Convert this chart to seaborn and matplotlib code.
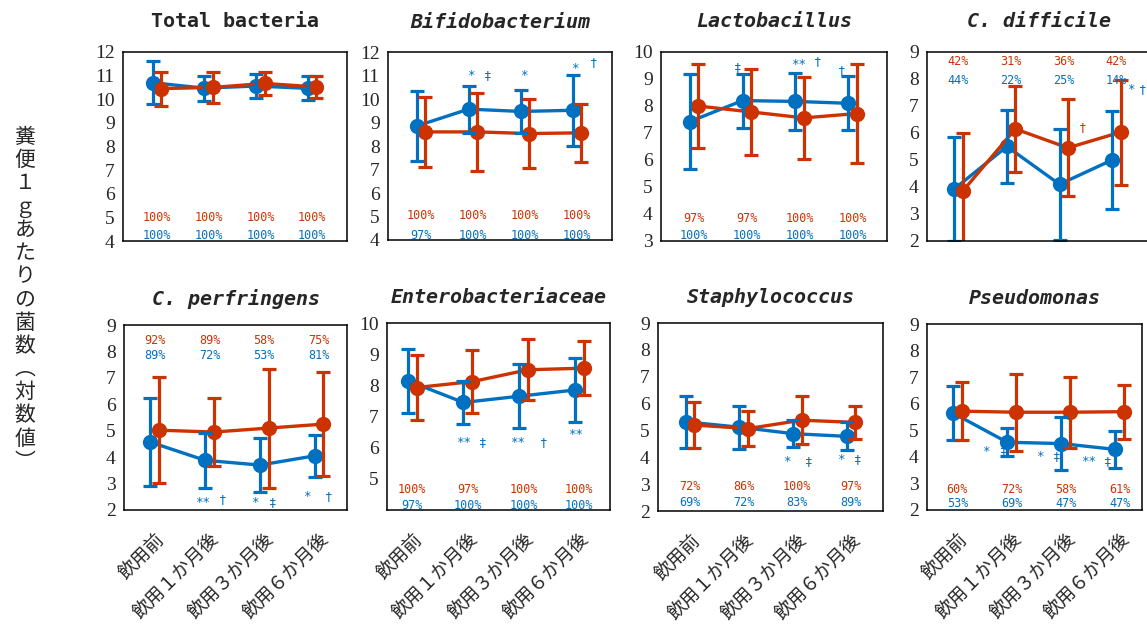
import matplotlib
matplotlib.use("Agg")
import matplotlib.pyplot as plt
import pandas as pd
import seaborn as sns

# ---------------------------------------------------------------- data
periods = ["飲用前", "飲用１か月後", "飲用３か月後", "飲用６か月後"]
group_names = ["A", "B"]          # A: blue series, B: red series

total_a = [10.70, 10.47, 10.56, 10.46]
total_a_sd = [0.90, 0.53, 0.49, 0.51]
total_b = [10.45, 10.50, 10.67, 10.52]
total_b_sd = [0.72, 0.67, 0.47, 0.45]
total_pct_a = [100, 100, 100, 100]
total_pct_b = [100, 100, 100, 100]

bifido_a = [8.85, 9.57, 9.47, 9.52]
bifido_a_sd = [1.50, 1.00, 0.93, 1.50]
bifido_b = [8.60, 8.60, 8.53, 8.56]
bifido_b_sd = [1.50, 1.65, 1.45, 1.22]
bifido_pct_a = [97, 100, 100, 100]
bifido_pct_b = [100, 100, 100, 100]

lacto_a = [7.42, 8.20, 8.17, 8.10]
lacto_a_sd = [1.75, 1.00, 1.05, 1.00]
lacto_b = [8.00, 7.78, 7.56, 7.72]
lacto_b_sd = [1.55, 1.58, 1.52, 1.82]
lacto_pct_a = [100, 100, 100, 100]
lacto_pct_b = [97, 97, 100, 100]

cdiff_a = [3.93, 5.50, 4.10, 5.00]
cdiff_a_sd = [1.93, 1.35, 2.05, 1.80]
cdiff_b = [3.85, 6.15, 5.45, 6.03]
cdiff_b_sd = [2.15, 1.60, 1.80, 1.95]
cdiff_pct_a = [44, 22, 25, 14]
cdiff_pct_b = [42, 31, 36, 42]

cperf_a = [4.57, 3.88, 3.70, 4.05]
cperf_a_sd = [1.67, 1.04, 1.02, 0.80]
cperf_b = [5.02, 4.95, 5.10, 5.25]
cperf_b_sd = [2.00, 1.30, 2.25, 1.97]
cperf_pct_a = [89, 72, 53, 81]
cperf_pct_b = [92, 89, 58, 75]

entero_a = [8.15, 7.45, 7.65, 7.85]
entero_a_sd = [1.03, 0.70, 1.03, 1.04]
entero_b = [7.93, 8.12, 8.50, 8.55]
entero_b_sd = [1.04, 1.00, 0.98, 0.87]
entero_pct_a = [97, 100, 100, 100]
entero_pct_b = [100, 97, 100, 100]

staph_a = [5.32, 5.12, 4.88, 4.78]
staph_a_sd = [0.98, 0.80, 0.49, 0.52]
staph_b = [5.20, 5.07, 5.38, 5.30]
staph_b_sd = [0.87, 0.64, 0.90, 0.61]
staph_pct_a = [69, 72, 83, 89]
staph_pct_b = [72, 86, 100, 97]

pseudo_a = [5.65, 4.55, 4.50, 4.28]
pseudo_a_sd = [1.02, 0.52, 1.00, 0.70]
pseudo_b = [5.72, 5.68, 5.68, 5.70]
pseudo_b_sd = [1.10, 1.45, 1.33, 1.02]
pseudo_pct_a = [53, 69, 47, 47]
pseudo_pct_b = [60, 72, 58, 61]

ylabel_text = "糞便１ｇあたりの菌数︵対数値︶"

# ---------------------------------------------------------------- style
BLUE = "#0070C0"
RED = "#CC3300"
W, H = 1147, 637

sns.set_style("white")
plt.rcParams["font.family"] = ["Liberation Serif", "Noto Sans CJK JP", "DejaVu Sans"]

# panel: title, italic, series, ylim, yticks, box (px), xlim, pct y (a, b), marks
panels = [
    dict(title="Total bacteria", italic=False,
         a=total_a, a_sd=total_a_sd, b=total_b, b_sd=total_b_sd,
         pa=total_pct_a, pb=total_pct_b, pct_y=(4.25, 5.0),
         ylim=(4, 12), yticks=range(4, 13), box=(123, 52, 347, 241),
         xlim=(-0.65, 3.67), marks=[]),
    dict(title="Bifidobacterium", italic=True,
         a=bifido_a, a_sd=bifido_a_sd, b=bifido_b, b_sd=bifido_b_sd,
         pa=bifido_pct_a, pb=bifido_pct_b, pct_y=(4.21, 5.06),
         ylim=(4, 12), yticks=range(4, 13), box=(388, 52, 612, 240),
         xlim=(-0.63, 3.67),
         marks=[(0.96, 10.98, "*", BLUE), (1.29, 10.98, "‡", BLUE),
                (1.98, 10.98, "*", BLUE), (2.96, 11.3, "*", BLUE),
                (3.31, 11.57, "†", BLUE)]),
    dict(title="Lactobacillus", italic=True,
         a=lacto_a, a_sd=lacto_a_sd, b=lacto_b, b_sd=lacto_b_sd,
         pa=lacto_pct_a, pb=lacto_pct_b, pct_y=(3.22, 3.85),
         ylim=(3, 10), yticks=range(3, 11), box=(661, 52, 887, 241),
         xlim=(-0.62, 3.65),
         marks=[(0.83, 9.44, "‡", BLUE), (1.98, 9.52, "**", BLUE),
                (2.34, 9.63, "†", BLUE), (2.8, 9.33, "†", BLUE)]),
    dict(title="C. difficile", italic=True,
         a=cdiff_a, a_sd=cdiff_a_sd, b=cdiff_b, b_sd=cdiff_b_sd,
         pa=cdiff_pct_a, pb=cdiff_pct_b, pct_y=(7.96, 8.63),
         ylim=(2, 9), yticks=range(2, 10), box=(927, 52, 1151, 241),
         xlim=(-0.6, 3.66),
         marks=[(2.37, 6.22, "†", RED), (3.28, 7.6, "*", BLUE),
                (3.5, 7.6, "†", BLUE)]),
    dict(title="C. perfringens", italic=True,
         a=cperf_a, a_sd=cperf_a_sd, b=cperf_b, b_sd=cperf_b_sd,
         pa=cperf_pct_a, pb=cperf_pct_b, pct_y=(7.86, 8.43),
         ylim=(2, 9), yticks=range(2, 10), box=(124, 325, 347, 510),
         xlim=(-0.56, 3.51),
         marks=[(0.87, 2.3, "**", BLUE), (1.24, 2.38, "†", BLUE),
                (1.82, 2.27, "*", BLUE), (2.15, 2.27, "‡", BLUE),
                (2.78, 2.5, "*", BLUE), (3.18, 2.5, "†", BLUE)]),
    dict(title="Enterobacteriaceae", italic=True,
         a=entero_a, a_sd=entero_a_sd, b=entero_b, b_sd=entero_b_sd,
         pa=entero_pct_a, pb=entero_pct_b, pct_y=(4.13, 4.67),
         ylim=(4, 10), yticks=range(5, 11), box=(387, 323, 610, 510),
         xlim=(-0.45, 3.55),
         marks=[(0.92, 6.15, "**", BLUE), (1.26, 6.15, "‡", BLUE),
                (1.9, 6.15, "**", BLUE), (2.37, 6.15, "†", BLUE),
                (2.93, 6.41, "**", BLUE)]),
    dict(title="Staphylococcus", italic=True,
         a=staph_a, a_sd=staph_a_sd, b=staph_b, b_sd=staph_b_sd,
         pa=staph_pct_a, pb=staph_pct_b, pct_y=(2.3, 2.9),
         ylim=(2, 9), yticks=range(2, 10), box=(658, 323, 883, 511),
         xlim=(-0.6, 3.6),
         marks=[(1.81, 3.83, "*", BLUE), (2.22, 3.83, "‡", BLUE),
                (2.81, 3.9, "*", BLUE), (3.13, 3.9, "‡", BLUE)]),
    dict(title="Pseudomonas", italic=True,
         a=pseudo_a, a_sd=pseudo_a_sd, b=pseudo_b, b_sd=pseudo_b_sd,
         pa=pseudo_pct_a, pb=pseudo_pct_b, pct_y=(2.26, 2.79),
         ylim=(2, 9), yticks=range(2, 10), box=(927, 324, 1142, 510),
         xlim=(-0.56, 3.41),
         marks=[(0.52, 4.22, "*", BLUE), (0.85, 4.22, "‡", BLUE),
                (1.53, 4.0, "*", BLUE), (1.84, 4.0, "‡", BLUE),
                (2.43, 3.81, "**", BLUE), (2.78, 3.81, "‡", BLUE)]),
]

DODGE = 0.16
MONO = "DejaVu Sans Mono"

fig = plt.figure(figsize=(W / 100, H / 100), dpi=100)

for i, p in enumerate(panels):
    x0, y0, x1, y1 = p["box"]
    ax = fig.add_axes([x0 / W, 1 - y1 / H, (x1 - x0) / W, (y1 - y0) / H])

    df = pd.DataFrame({
        "period": periods * 2,
        "group": [group_names[0]] * 4 + [group_names[1]] * 4,
        "value": list(p["a"]) + list(p["b"]),
    })
    sns.pointplot(data=df, x="period", y="value", hue="group",
                  order=periods, hue_order=group_names,
                  palette=[BLUE, RED], dodge=DODGE, errorbar=None,
                  markers="o", markersize=11, linewidth=2.4,
                  markeredgewidth=0, legend=False, ax=ax)

    # standard-deviation whiskers at the dodged positions
    for k, (m, sd, c) in enumerate([(p["a"], p["a_sd"], BLUE),
                                    (p["b"], p["b_sd"], RED)]):
        off = -DODGE / 2 + DODGE * k
        ax.errorbar([j + off for j in range(4)], m, yerr=sd, fmt="none",
                    ecolor=c, elinewidth=2.3, capsize=5, capthick=2.3)

    # detection rates
    for j in range(4):
        ax.text(j, p["pct_y"][1], f"{p['pb'][j]}%", color=RED,
                family=MONO, fontsize=8.5, ha="center", va="center")
        ax.text(j, p["pct_y"][0], f"{p['pa'][j]}%", color=BLUE,
                family=MONO, fontsize=8.5, ha="center", va="center")

    # significance marks
    for mx, my, s, c in p["marks"]:
        ax.text(mx, my, s, color=c, family=MONO, fontsize=9,
                ha="center", va="center", clip_on=False)

    ax.set_xlim(*p["xlim"])
    ax.set_ylim(*p["ylim"])
    ax.set_yticks(list(p["yticks"]))
    ax.set_xlabel("")
    ax.set_ylabel("")
    for sp in ax.spines.values():
        sp.set_visible(True)
        sp.set_color("black")
        sp.set_linewidth(1.1)
    ax.tick_params(axis="y", direction="out", length=3, width=1,
                   pad=3, labelsize=14)
    ax.tick_params(axis="x", length=0)

    if i < 4:
        ax.set_xticklabels([])
    else:
        ax.set_xticks(range(4))
        ax.set_xticklabels(periods, rotation=45, ha="right",
                           rotation_mode="anchor", fontsize=13.5,
                           family=["Noto Sans CJK JP"])
        ax.tick_params(axis="x", pad=14)

    title_y = 1 + (30 if i < 4 else 26) / (y1 - y0)
    ax.text(0.5, title_y, p["title"], transform=ax.transAxes,
            ha="center", va="center", family=MONO, fontsize=14.4,
            fontweight="bold", style="italic" if p["italic"] else "normal")

# vertical axis caption, one upright character per line
step = 23.2
top = 137
for n, ch in enumerate(ylabel_text):
    fig.text(25 / W, 1 - (top + n * step) / H, ch, ha="center", va="center",
             fontsize=15, family=["Noto Sans CJK JP", "DejaVu Sans"])

fig.savefig("out.png", dpi=100)
